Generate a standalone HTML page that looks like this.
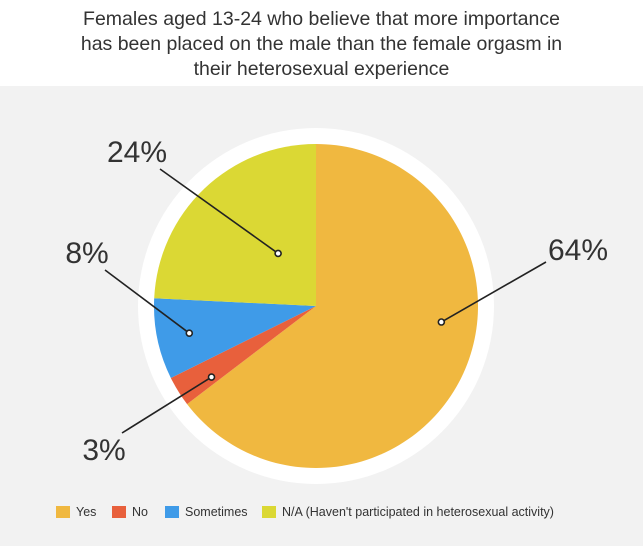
<!DOCTYPE html>
<html><head><meta charset="utf-8"><style>
body{margin:0;width:643px;height:546px;overflow:hidden;background:#f2f2f2;font-family:"Liberation Sans","DejaVu Sans",sans-serif}
#title{position:absolute;left:0;top:0;width:643px;height:86px;background:#fff;text-align:center;color:#333;font-size:19.5px;line-height:25px;padding-top:7px;box-sizing:border-box}
svg{position:absolute;left:0;top:0}
</style></head><body>
<div id="title">Females aged 13-24 who believe that more importance<br>has been placed on the male than the female orgasm in<br>their heterosexual experience</div>
<svg id="chart" width="643" height="546"></svg>
<script>
const categories=["Yes","No","Sometimes","N/A (Haven't participated in heterosexual activity)"];
const values=[64,3,8,24];
const colors=["#f0b840","#e8603c","#3f9be8","#dbd834"];
const labelPos=[[578,250],[104,450],[87,253],[137,152]];
const dotFrac=[0.418,0.28,0.49,0.59];
const dotRad=[0.78,0.78,0.8,0.4];
const legendX=[56,112,165,262];
const svg=document.getElementById('chart');
const NS='http://www.w3.org/2000/svg';
const cx=316,cy=306,r=162;
function mk(t,a){const e=document.createElementNS(NS,t);for(const k in a)e.setAttribute(k,a[k]);svg.appendChild(e);return e;}
const ring=mk('circle',{cx:cx,cy:cy,r:178,fill:'#fff'});


const total=values.reduce((a,b)=>a+b,0);
function pt(a,rr){return [cx+rr*Math.sin(a),cy-rr*Math.cos(a)];}
let start=0;const dotAng=[];
values.forEach((v,i)=>{
 const ang=v/total*2*Math.PI,end=start+ang;
 const p0=pt(start,r),p1=pt(end,r);
 const s=mk('path',{d:`M${cx},${cy}L${p0[0]},${p0[1]}A${r},${r} 0 ${ang>Math.PI?1:0} 1 ${p1[0]},${p1[1]}Z`,fill:colors[i]});
 
 
 dotAng.push(start+ang*dotFrac[i]);start=end;
});
values.forEach((v,i)=>{
 const d=pt(dotAng[i],dotRad[i]*r);const lp=labelPos[i];
 const ex=lp[0]+(i==0?-32:(i==3?23:18)),ey=lp[1]+(i==0?12:(i==1?-17:17));
 const ln=mk('line',{x1:ex,y1:ey,x2:d[0],y2:d[1],stroke:'#222','stroke-width':1.6});
 
 
 const dt=mk('circle',{cx:d[0],cy:d[1],r:3,fill:'#fff',stroke:'#222','stroke-width':1.6});
 
 
 const t=mk('text',{x:lp[0],y:lp[1]+10,'text-anchor':'middle','font-size':30,fill:'#333'});
 t.textContent=v+'%';
 
 
});
categories.forEach((c,i)=>{
 const sw=mk('rect',{x:legendX[i],y:506,width:14,height:12,fill:colors[i]});
 
 
 const t=mk('text',{x:legendX[i]+20,y:516,'font-size':12.5,fill:'#333'});
 t.textContent=c;
 
 
});
</script>
</body></html>
